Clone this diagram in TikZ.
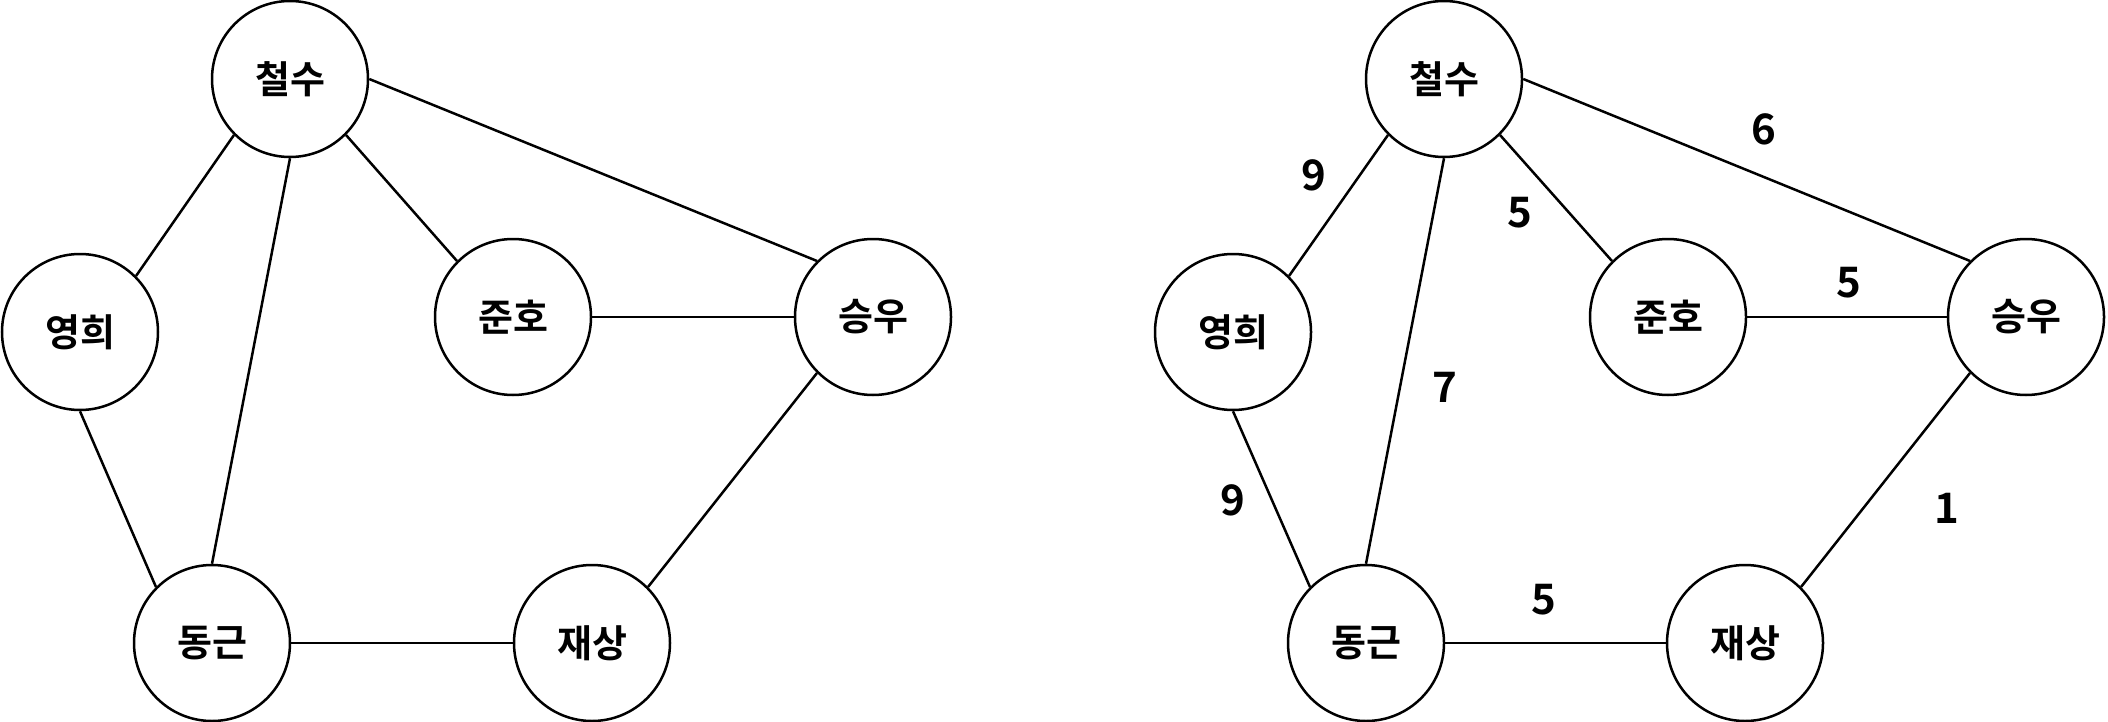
\documentclass[tikz,border=0pt]{standalone}
\usepackage{fontspec}
\setmainfont{Noto Sans CJK KR}[BoldFont={Noto Sans CJK KR Bold}]

\begin{document}
\begin{tikzpicture}[x=1pt,y=-1pt,line width=2.5pt,
  person/.style={circle,draw,minimum size=156pt,inner sep=0pt,font=\fontsize{38}{40}\selectfont\bfseries},
  weight/.style={inner sep=0pt,font=\fontsize{42}{44}\selectfont\bfseries}]
\useasboundingbox (0,0) rectangle (2108,722);
% graph without weights
\node [person] (cs1) at (290,79) {철수};
\node [person] (yh1) at (80,332) {영희};
\node [person] (jh1) at (513,317) {준호};
\node [person] (sw1) at (873,317) {승우};
\node [person] (dg1) at (212,643) {동근};
\node [person] (js1) at (592,643) {재상};
\draw (cs1.south west) -- (yh1.north east);
\draw (cs1.south) -- (dg1.north);
\draw (cs1.south east) -- (jh1.north west);
\draw (cs1.east) -- (sw1.north west);
\draw (jh1.east) -- (sw1.west);
\draw (yh1.south) -- (dg1.north west);
\draw (dg1.east) -- (js1.west);
\draw (sw1.south west) -- (js1.north east);
% graph with weights
\node [person] (cs2) at (1444,79) {철수};
\node [person] (yh2) at (1233,332) {영희};
\node [person] (jh2) at (1668,317) {준호};
\node [person] (sw2) at (2026,317) {승우};
\node [person] (dg2) at (1366,643) {동근};
\node [person] (js2) at (1745,643) {재상};
\draw (cs2.south west) -- (yh2.north east);
\draw (cs2.south) -- (dg2.north);
\draw (cs2.south east) -- (jh2.north west);
\draw (cs2.east) -- (sw2.north west);
\draw (jh2.east) -- (sw2.west);
\draw (yh2.south) -- (dg2.north west);
\draw (dg2.east) -- (js2.west);
\draw (sw2.south west) -- (js2.north east);
\node [weight] (w-cs-yh) at (1314,175) {9};
\node [weight] (w-cs-jh) at (1520,213) {5};
\node [weight] (w-cs-sw) at (1764,129) {6};
\node [weight] (w-jh-sw) at (1849,283) {5};
\node [weight] (w-cs-dg) at (1445,387) {7};
\node [weight] (w-yh-dg) at (1233,500) {9};
\node [weight] (w-sw-js) at (1947,508) {1};
\node [weight] (w-dg-js) at (1544,600) {5};
\end{tikzpicture}
\end{document}
